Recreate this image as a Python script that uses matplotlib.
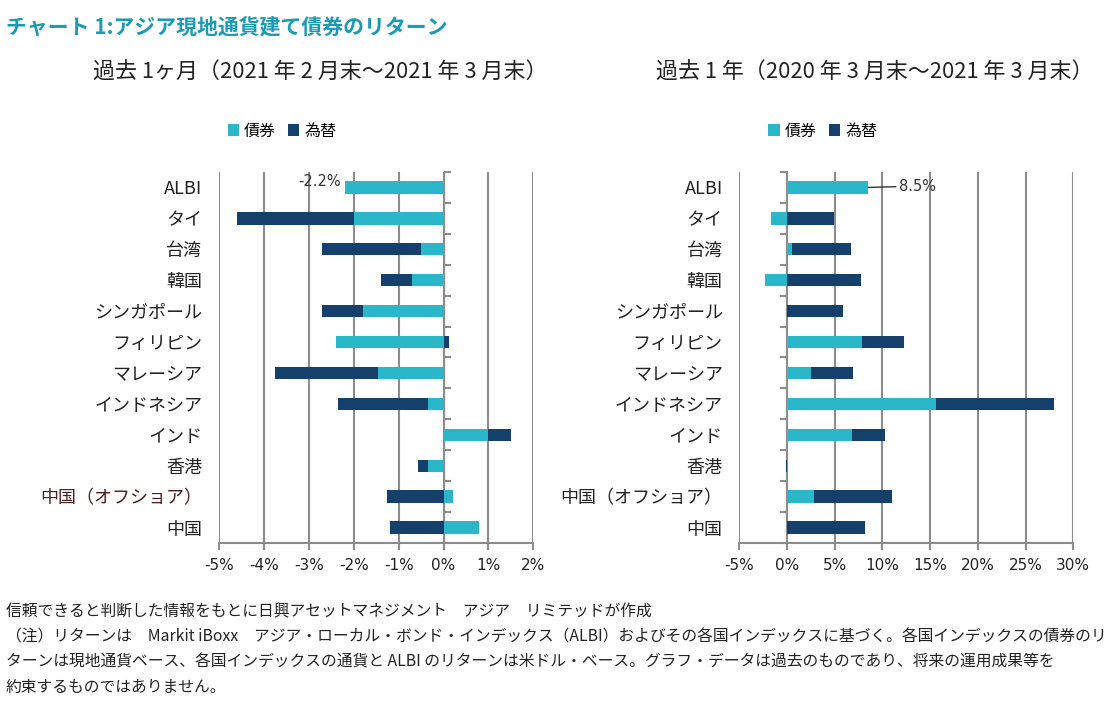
import matplotlib
matplotlib.use('Agg')
import matplotlib.pyplot as plt
import numpy as np

plt.rcParams['font.family'] = ['Noto Sans CJK JP', 'DejaVu Sans']

# data (%)
cats = ['ALBI', 'タイ', '台湾', '韓国', 'シンガポール', 'フィリピン', 'マレーシア',
        'インドネシア', 'インド', '香港', '中国（オフショア）', '中国']
m1_bond = [-2.2, -2.0, -0.5, -0.7, -1.8, -2.4, -1.45, -0.35, 1.0, -0.35, 0.2, 0.8]
m1_fx = [0.0, -2.6, -2.2, -0.7, -0.9, 0.13, -2.3, -2.0, 0.5, -0.22, -1.25, -1.2]
y1_bond = [8.5, -1.65, 0.55, -2.3, 0.0, 7.9, 2.55, 15.6, 6.8, 0.0, 2.85, 0.0]
y1_fx = [0.0, 4.9, 6.2, 7.7, 5.85, 4.4, 4.35, 12.35, 3.45, -0.15, 8.1, 8.2]
m1_ticks = [-5, -4, -3, -2, -1, 0, 1, 2]
y1_ticks = [-5, 0, 5, 10, 15, 20, 25, 30]

C_BOND = '#29b7c9'
C_FX = '#14406b'
GRID = '#8c8c8c'

title = 'チャート 1:アジア現地通貨建て債券のリターン'
sub1 = '過去 1ヶ月（2021 年 2 月末～2021 年 3 月末）'
sub2 = '過去 1 年（2020 年 3 月末～2021 年 3 月末）'
notes = ['信頼できると判断した情報をもとに日興アセットマネジメント　アジア　リミテッドが作成',
         '（注）リターンは　Markit iBoxx　アジア・ローカル・ボンド・インデックス（ALBI）およびその各国インデックスに基づく。各国インデックスの債券のリ',
         'ターンは現地通貨ベース、各国インデックスの通貨と ALBI のリターンは米ドル・ベース。グラフ・データは過去のものであり、将来の運用成果等を',
         '約束するものではありません。']

fig = plt.figure(figsize=(11.13, 7.16), dpi=100)
axL = fig.add_axes([0.1968, 0.2416, 0.2824, 0.5182])
axR = fig.add_axes([0.6643, 0.2416, 0.3000, 0.5182])


def draw(ax, bond, fx, ticks, leg_x):
    bond = np.array(bond)
    fx = np.array(fx)
    y = np.arange(len(cats))
    fx_left = np.where(np.sign(fx) == np.sign(bond), bond, 0)
    ax.barh(y, bond, height=0.4, color=C_BOND, label='債券', zorder=3)
    ax.barh(y, fx, left=fx_left, height=0.4, color=C_FX, label='為替', zorder=3)
    ax.set_xlim(ticks[0], ticks[-1])
    ax.set_ylim(len(cats) - 0.5, -0.5)
    ax.set_xticks(ticks)
    ax.set_xticklabels([f'{t}%' for t in ticks], fontsize=11, color='#222222',
                       family=['DejaVu Sans'])
    ax.set_yticks(y)
    ax.set_yticklabels(cats, fontsize=13, color='#222222')
    ax.tick_params(axis='y', length=0, pad=12)
    ax.tick_params(axis='x', length=5, width=1.5, color=GRID, pad=6)
    for s in ['top', 'right', 'left']:
        ax.spines[s].set_visible(False)
    ax.spines['bottom'].set_color(GRID)
    ax.spines['bottom'].set_linewidth(1.5)
    ax.grid(axis='x', color=GRID, linewidth=1.5, zorder=0)
    # zero axis with category separators
    zpos = (0 - ticks[0]) / (ticks[-1] - ticks[0])
    sec = ax.secondary_yaxis(zpos)
    sec.set_yticks(np.arange(len(cats) + 1) - 0.5)
    sec.set_yticklabels([])
    sec.tick_params(length=5, width=1.5, color=GRID)
    sec.spines['left'].set_color(GRID)
    sec.spines['left'].set_linewidth(1.5)
    ax.legend(loc='center', bbox_to_anchor=(leg_x, 1.11),
              ncol=2, frameon=False, fontsize=11.5, handlelength=0.7, handleheight=0.7,
              handletextpad=0.3, columnspacing=0.8)


draw(axL, m1_bond, m1_fx, m1_ticks, 0.2)
draw(axR, y1_bond, y1_fx, y1_ticks, 0.25)
axL.get_yticklabels()[10].set_color('#4a1f1f')

# value labels
axL.annotate(f'{m1_bond[0]:.1f}%', xy=(m1_bond[0], 0), xytext=(-3, 4),
             textcoords='offset points', ha='right', va='center', fontsize=10.5,
             color='#333333', family=['DejaVu Sans'])
axR.annotate(f'{y1_bond[0]:.1f}%', xy=(y1_bond[0], 0), xytext=(22, 1),
             textcoords='offset points', ha='left', va='center', fontsize=10.5,
             color='#333333', family=['DejaVu Sans'],
             arrowprops=dict(arrowstyle='-', color='#333333', lw=1,
                             shrinkA=0, shrinkB=0))

fig.text(0.005, 0.962, title, fontsize=15, fontweight='bold', color='#1b9bb3',
         va='center', ha='left')
fig.text(0.288, 0.898, sub1, fontsize=15.8, color='#222222', ha='center', va='center')
fig.text(0.786, 0.898, sub2, fontsize=15.8, color='#222222', ha='center', va='center')

for i, line in enumerate(notes):
    fig.text(0.005, 0.145 - i * 0.035, line, fontsize=11.35, color='#222222',
             ha='left', va='center')

fig.savefig('out.png', dpi=100)
